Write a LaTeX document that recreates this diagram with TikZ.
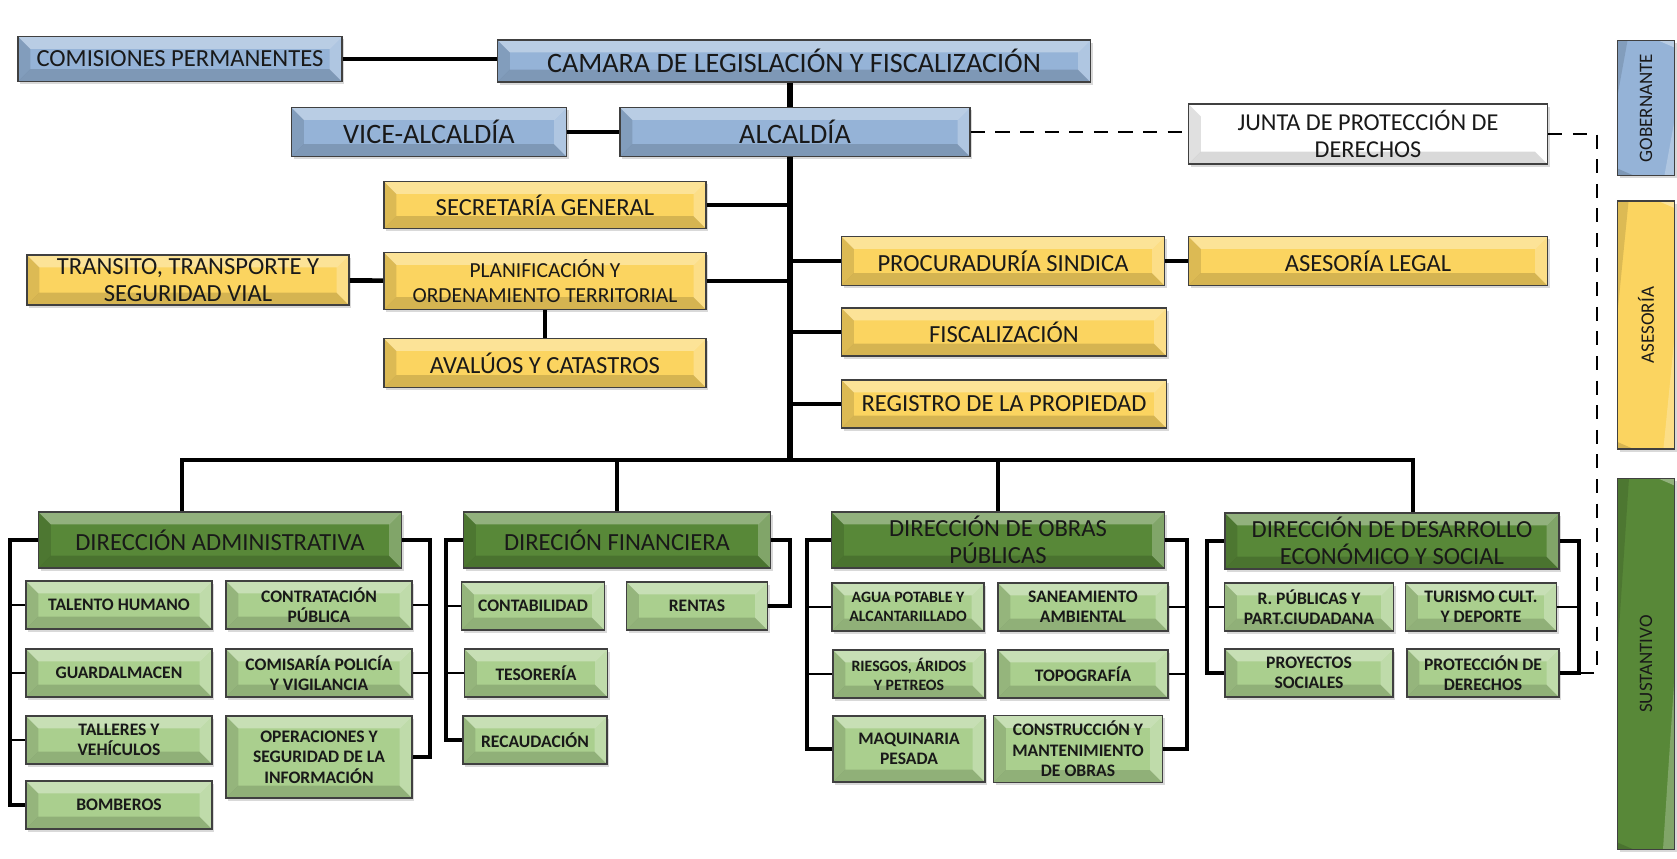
\documentclass[tikz,border=0pt]{standalone}
\usepackage{fontspec}
\setmainfont{Carlito}
\usetikzlibrary{positioning,shadows}
\tikzset{>=latex}
\definecolor{bluefill}{RGB}{149,179,215}
\definecolor{yellowfill}{RGB}{251,212,96}
\definecolor{darkgreen}{RGB}{88,136,56}
\definecolor{lightgreen}{RGB}{170,207,142}
\newcommand{\bevw}{3.5pt}
\tikzset{
  bevel/.style={path picture={
    \coordinate (bvNW) at (path picture bounding box.north west);
    \coordinate (bvNE) at (path picture bounding box.north east);
    \coordinate (bvSW) at (path picture bounding box.south west);
    \coordinate (bvSE) at (path picture bounding box.south east);
    \coordinate (bvnw) at ([shift={(\bevw,-\bevw)}]bvNW);
    \coordinate (bvne) at ([shift={(-\bevw,-\bevw)}]bvNE);
    \coordinate (bvsw) at ([shift={(\bevw,\bevw)}]bvSW);
    \coordinate (bvse) at ([shift={(-\bevw,\bevw)}]bvSE);
    \fill[white,opacity=.35] (bvNW) -- (bvNE) -- (bvne) -- (bvnw) -- cycle;
    \fill[black,opacity=.12] (bvNW) -- (bvnw) -- (bvsw) -- (bvSW) -- cycle;
    \fill[black,opacity=.15] (bvSW) -- (bvsw) -- (bvse) -- (bvSE) -- cycle;
    \fill[white,opacity=.25] (bvSE) -- (bvse) -- (bvne) -- (bvNE) -- cycle;
  }},
  orgbox/.style={draw=black!75,line width=.5pt,align=center,inner sep=1pt,text=black!90,bevel,
    drop shadow={opacity=.3,shadow xshift=.6pt,shadow yshift=-.8pt}},
  govbox/.style={orgbox,fill=bluefill,font=\fontsize{8}{9}\selectfont},
  advbox/.style={orgbox,fill=yellowfill,font=\fontsize{7}{7.6}\selectfont},
  dirbox/.style={orgbox,fill=darkgreen,font=\fontsize{7}{7.6}\selectfont,minimum height=5.6mm},
  subunit/.style={orgbox,fill=lightgreen,font=\fontsize{5}{5.8}\selectfont\bfseries,minimum height=4.8mm},
  trunk/.style={line width=1.8pt},
  conn/.style={line width=1.3pt},
  brk/.style={line width=1pt},
  sublink/.style={line width=.6pt},
  dashlink/.style={line width=.65pt,dash pattern=on 4pt off 3pt},
}
\begin{document}
\begin{tikzpicture}[x=0.1mm,y=-0.1mm]
\useasboundingbox (0,0) rectangle (1677,858);
\node[govbox,minimum width=32.4mm,minimum height=4.5mm,font=\fontsize{7}{8}\selectfont] (com) at (180,59) {COMISIONES PERMANENTES};
\node[govbox,minimum width=59.3mm,minimum height=4.2mm] (cam) at (794,61) {CAMARA DE LEGISLACIÓN Y FISCALIZACIÓN};
\node[govbox,minimum width=27.5mm,minimum height=4.9mm] (vice) at (429,132) {VICE-ALCALDÍA};
\node[govbox,minimum width=35mm,minimum height=4.9mm] (alc) at (795,132) {ALCALDÍA};
\node[orgbox,fill=white,minimum width=35.9mm,minimum height=6mm,font=\fontsize{6.9}{7.6}\selectfont] (junta) at (1368,134) {JUNTA DE PROTECCIÓN DE\\DERECHOS};
\node[advbox,minimum width=32.2mm,minimum height=4.7mm] (sec) at (545,205) {SECRETARÍA GENERAL};
\node[advbox,minimum width=32.2mm,minimum height=5.7mm,font=\fontsize{6.1}{7}\selectfont] (plan) at (545,281) {PLANIFICACIÓN Y\\ORDENAMIENTO TERRITORIAL};
\node[advbox,minimum width=32.2mm,minimum height=4.9mm] (aval) at (545,363) {AVALÚOS Y CATASTROS};
\node[advbox,minimum width=32.2mm,minimum height=5mm] (tran) at (188,280) {TRANSITO, TRANSPORTE Y\\SEGURIDAD VIAL};
\node[advbox,minimum width=32.3mm,minimum height=4.9mm] (proc) at (1003,261) {PROCURADURÍA SINDICA};
\node[advbox,minimum width=35.9mm,minimum height=4.9mm] (legal) at (1368,261) {ASESORÍA LEGAL};
\node[advbox,minimum width=32.5mm,minimum height=4.8mm] (fisc) at (1004,332) {FISCALIZACIÓN};
\node[advbox,minimum width=32.5mm,minimum height=4.8mm] (reg) at (1004,404) {REGISTRO DE LA PROPIEDAD};
\node[govbox,rotate=90,minimum width=13.5mm,minimum height=5.7mm,font=\fontsize{5.4}{6}\selectfont] (gobl) at (1646,108) {GOBERNANTE};
\node[advbox,rotate=90,minimum width=24.8mm,minimum height=5.7mm,font=\fontsize{5.4}{6}\selectfont] (asel) at (1646,325) {ASESORÍA};
\node[dirbox,rotate=90,minimum width=37.1mm,minimum height=5.7mm,font=\fontsize{5.4}{6}\selectfont] (sust) at (1646,664) {SUSTANTIVO};
\node[dirbox,minimum width=36.3mm] (adm) at (220,540) {DIRECCIÓN ADMINISTRATIVA};
\node[dirbox,minimum width=30.7mm] (fin) at (617,540) {DIRECIÓN FINANCIERA};
\node[dirbox,minimum width=33.3mm] (obr) at (998,540) {DIRECCIÓN DE OBRAS\\PÚBLICAS};
\node[dirbox,minimum width=33.4mm] (des) at (1392,541) {DIRECCIÓN DE DESARROLLO\\ECONÓMICO Y SOCIAL};
\node[subunit,minimum width=18.6mm] (tal) at (119,605) {TALENTO HUMANO};
\node[subunit,minimum width=18.6mm] (gua) at (119,673) {GUARDALMACEN};
\node[subunit,minimum width=18.6mm] (tyv) at (119,740) {TALLERES Y\\VEHÍCULOS};
\node[subunit,minimum width=18.6mm] (bom) at (119,805) {BOMBEROS};
\node[subunit,minimum width=18.6mm] (con) at (319,605) {CONTRATACIÓN\\PÚBLICA};
\node[subunit,minimum width=18.6mm] (pol) at (319,673) {COMISARÍA POLICÍA\\Y VIGILANCIA};
\node[subunit,minimum width=18.6mm,minimum height=8.2mm] (ope) at (319,757) {OPERACIONES Y\\SEGURIDAD DE LA\\INFORMACIÓN};
\node[subunit,minimum width=14.3mm] (cnt) at (533,606) {CONTABILIDAD};
\node[subunit,minimum width=14.3mm] (tes) at (536,673) {TESORERÍA};
\node[subunit,minimum width=14.4mm] (rec) at (535,740) {RECAUDACIÓN};
\node[subunit,minimum width=14.1mm] (ren) at (697,606) {RENTAS};
\node[subunit,minimum width=15.2mm,font=\fontsize{4.5}{5.4}\selectfont\bfseries] (agu) at (908,607) {AGUA POTABLE Y\\ALCANTARILLADO};
\node[subunit,minimum width=15.2mm,font=\fontsize{4.5}{5.4}\selectfont\bfseries] (rie) at (909,674) {RIESGOS, ÁRIDOS\\Y PETREOS};
\node[subunit,minimum width=15.2mm,minimum height=6.6mm] (maq) at (909,749) {MAQUINARIA\\PESADA};
\node[subunit,minimum width=17mm] (san) at (1083,607) {SANEAMIENTO\\AMBIENTAL};
\node[subunit,minimum width=17mm] (topo) at (1083,674) {TOPOGRAFÍA};
\node[subunit,minimum width=16.9mm,minimum height=6.7mm] (cym) at (1078,749) {CONSTRUCCIÓN Y\\MANTENIMIENTO\\DE OBRAS};
\node[subunit,minimum width=16.9mm] (rpu) at (1309,607) {R. PÚBLICAS Y\\PART.CIUDADANA};
\node[subunit,minimum width=16.8mm] (pro) at (1309,673) {PROYECTOS\\SOCIALES};
\node[subunit,minimum width=15.1mm] (tur) at (1481,607) {TURISMO CULT.\\Y DEPORTE};
\node[subunit,minimum width=15.2mm] (pdd) at (1483,673) {PROTECCIÓN DE\\DERECHOS};
\coordinate (tr) at (790,460);
\coordinate (busL) at (182,460);
\coordinate (busR) at (1413,460);
\coordinate (admL) at (10,540);
\coordinate (admR) at (430,540);
\coordinate (finL) at (446,540);
\coordinate (finR) at (790,540);
\coordinate (obrL) at (807,540);
\coordinate (obrR) at (1187,540);
\coordinate (desL) at (1207,541);
\coordinate (desR) at (1579,541);
\coordinate (dashR) at (1597,673);
\draw[conn] (com.east) -- (com.east -| cam.west);
\draw[conn] (vice) -- (alc);
\draw[trunk] (cam.south -| tr) -- (alc.north -| tr);
\draw[trunk] (alc.south -| tr) -- (tr);
\draw[conn] (sec.east) -- (sec.east -| tr);
\draw[conn] (plan.east) -- (plan.east -| tr);
\draw[conn] (tran) -- (plan);
\draw[conn] (plan) -- (aval);
\draw[conn] (proc.west) -- (proc.west -| tr);
\draw[conn] (proc) -- (legal);
\draw[conn] (fisc.west) -- (fisc.west -| tr);
\draw[conn] (reg.west) -- (reg.west -| tr);
\draw[conn] (adm.north -| busL) |- (busR) -- (des.north -| busR);
\draw[conn] (fin.north) -- (fin.north |- tr);
\draw[conn] (obr.north) -- (obr.north |- tr);
\draw[brk] (adm.west) -- (admL) |- (bom.west);
\foreach \n in {tal,gua,tyv} \draw[sublink] (\n.west) -- (\n.west -| admL);
\draw[brk] (adm.east) -- (admR) |- (ope.east);
\foreach \n in {con,pol} \draw[sublink] (\n.east) -- (\n.east -| admR);
\draw[brk] (fin.west) -- (finL) |- (rec.west);
\foreach \n in {cnt,tes} \draw[sublink] (\n.west) -- (\n.west -| finL);
\draw[brk] (fin.east) -- (finR) |- (ren.east);
\draw[brk] (obr.west) -- (obrL) |- (maq.west);
\foreach \n in {agu,rie} \draw[sublink] (\n.west) -- (\n.west -| obrL);
\draw[brk] (obr.east) -- (obrR) |- (cym.east);
\foreach \n in {san,topo} \draw[sublink] (\n.east) -- (\n.east -| obrR);
\draw[brk] (des.west) -- (desL) |- (pro.west);
\draw[sublink] (rpu.west) -- (rpu.west -| desL);
\draw[brk] (des.east) -- (desR) |- (pdd.east);
\draw[sublink] (tur.east) -- (tur.east -| desR);
\draw[dashlink] (alc.east) -- (alc.east -| junta.west);
\draw[dashlink] (junta.east) -| (dashR) -- (pdd.east -| desR);
\end{tikzpicture}
\end{document}
